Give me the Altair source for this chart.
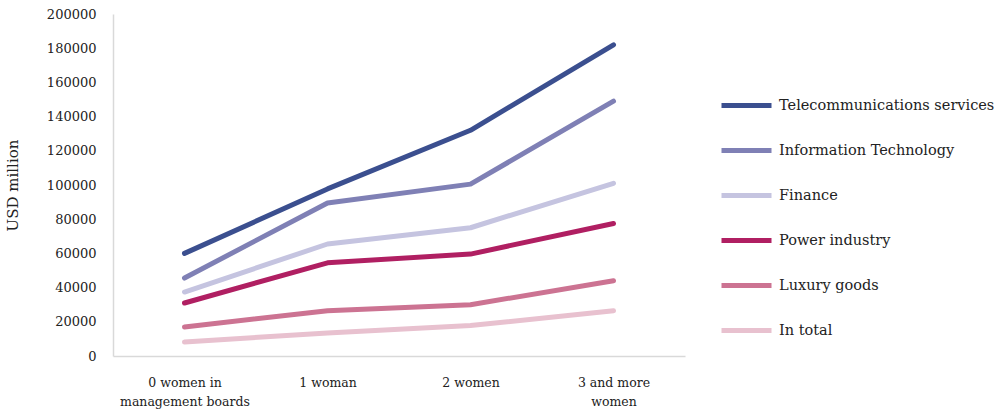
import altair as alt
import pandas as pd

categories = ["0 women in|management boards", "1 woman", "2 women", "3 and more|women"]
series = ["Telecommunications services", "Information Technology", "Finance",
          "Power industry", "Luxury goods", "In total"]
telecom = [60000, 97700, 132000, 182000]
it = [45600, 89500, 100500, 149000]
finance = [37400, 65500, 75000, 101000]
power = [31000, 54500, 59600, 77500]
luxury = [17000, 26500, 30000, 44000]
total = [8200, 13500, 17800, 26500]
colors = ["#3b4f8f", "#7f80b5", "#c5c4e0", "#b01f62", "#cc7392", "#e8c1cf"]

values = [telecom, it, finance, power, luxury, total]
rows = []
for s, vals in zip(series, values):
    for c, v in zip(categories, vals):
        rows.append({"category": c, "series": s, "value": v})
df = pd.DataFrame(rows)

FONT = "DejaVu Serif"

chart = alt.Chart(df).mark_line(strokeWidth=5, strokeCap="round", strokeJoin="round").encode(
    x=alt.X("category:N", sort=categories, title=None,
            scale=alt.Scale(paddingInner=0, paddingOuter=0.5),
            axis=alt.Axis(labelAngle=0, labelExpr="split(datum.label, '|')",
                          ticks=False, labelPadding=20, labelFontSize=12.5,
                          labelLineHeight=19, labelColor="#222222",
                          domainColor="#d9d9d9", domainWidth=1.5, labelFont=FONT)),
    y=alt.Y("value:Q", title="USD million",
            scale=alt.Scale(domain=[0, 200000], nice=False),
            axis=alt.Axis(values=list(range(0, 200001, 20000)), format="d", grid=False,
                          ticks=False, labelPadding=17, labelFontSize=13,
                          labelColor="#222222", domainColor="#d9d9d9", domainWidth=1.5,
                          titleFontSize=15, titleFontWeight="normal", titleColor="#222222",
                          titlePadding=26, labelFont=FONT, titleFont=FONT)),
    color=alt.Color("series:N", sort=series,
                    scale=alt.Scale(domain=series, range=colors),
                    legend=alt.Legend(title=None, orient="none", legendX=606, legendY=64,
                                      symbolType="stroke", symbolSize=2500,
                                      symbolStrokeWidth=5, labelFontSize=14.5,
                                      labelFont=FONT, labelColor="#222222",
                                      labelLimit=400, rowPadding=7, labelOffset=5)),
    order=alt.Order("series:N"),
).properties(
    width=572, height=342,
    background="white",
    autosize=alt.AutoSizeParams(type="none"),
    padding={"left": 113, "top": 14, "right": 322, "bottom": 54},
).configure_view(stroke=None, strokeWidth=0)

chart.save("out.html", embed_options={"renderer": "svg", "actions": False})
